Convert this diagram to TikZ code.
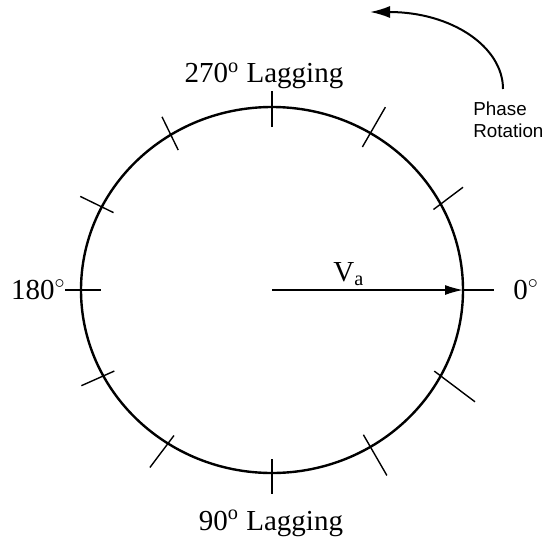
\documentclass[tikz,border=0pt]{standalone}
\usepackage{fontspec}
\setmainfont{Liberation Serif}
\newfontfamily\labelsans{Liberation Sans}
\usetikzlibrary{arrows.meta,calc}

\begin{document}
\begin{tikzpicture}[x=0.5pt,y=0.5pt,>=Latex,
  lbl/.style={inner sep=0pt,font=\fontsize{14.5}{17}\selectfont},
  tick/.style={line width=0.7pt}]
\useasboundingbox (-272,-251) rectangle (272,290);
\coordinate (O) at (0,0);
\coordinate (E) at (0:191 and 183);
% phasor circle and reference vector
\draw[line width=1.2pt] (O) ellipse [x radius=191,y radius=183];
\draw[tick,-{Latex[length=9pt,width=5pt]}] (O) -- (E);
% angle marks: position / direction / inside / outside
\foreach \a/\d/\i/\o in {0/0/0/31, 28/37/9/28, 59/60/16/30, 90/90/20/16,
    122/116/17/20, 153/154/13/24, 180/180/20/16, 208/204/12/24,
    237/233/10/30, 270/270/14/21, 301/300/14/33, 332/323/8/43}
  \draw[tick] ($(\a:191 and 183)+(\d:-\i)$) -- ($(\a:191 and 183)+(\d:\o)$);
\node[lbl,anchor=base] (lag270) at (-8,207) {270\textsuperscript{o} Lagging};
\node[lbl,anchor=base] (lag90) at (-1,-240) {90\textsuperscript{o} Lagging};
\node[lbl,anchor=base east] (deg180) at (-206,-9) {180$^{\circ}$};
\node[lbl,anchor=base west] (deg0) at (241,-9) {0$^{\circ}$};
\node[lbl,anchor=base west] (va) at (61,9) {V\textsubscript{a}};
% rotation sense
\coordinate (rs) at (231,201);
\coordinate (re) at (98,278);
\draw[line width=1pt,-{Latex[length=10pt,width=6pt]}] (rs) .. controls (231,243) and (180,278) .. (re);
\node[anchor=north west,align=left,inner sep=0pt,
  font=\labelsans\fontsize{9.4}{11}\selectfont] (rot) at (201,189) {Phase\\Rotation};
\end{tikzpicture}
\end{document}
